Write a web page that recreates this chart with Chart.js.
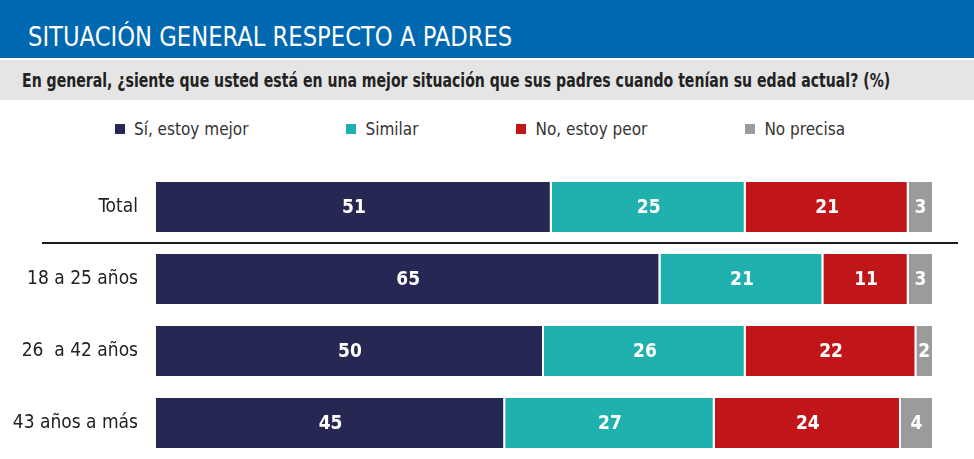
<!DOCTYPE html>
<html>
<head>
<meta charset="utf-8">
<script src="https://cdn.jsdelivr.net/npm/chart.js@4/dist/chart.umd.min.js"></script>
<style>
  body { margin: 0; width: 974px; height: 459px; background: #fff; overflow: hidden; position: relative;
         font-family: "DejaVu Sans Condensed", "DejaVu Sans", sans-serif; }
  .header { position: absolute; left: 0; top: 0; width: 974px; height: 58px; background: #0067b1; }
  .header h1 { margin: 0; position: absolute; left: 28px; top: 21px; color: #fff; font-weight: normal; font-size: 27px;
               white-space: nowrap; transform-origin: 0 0; }
  .sub { position: absolute; left: 0; top: 60px; width: 974px; height: 40px; background: #e5e5e5; }
  .sub p { margin: 0; position: absolute; left: 22px; top: 9px; font-size: 19px; font-weight: bold; color: #222;
           white-space: nowrap; transform-origin: 0 0; }
  #legend { position: absolute; top: 119px; left: 0; width: 960px; display: flex; justify-content: center; gap: 98px; font-size: 17px; color: #333; }
  #legend span.box { display: inline-block; width: 10px; height: 10px; margin-right: 9px; vertical-align: 1px; }
  #chart { position: absolute; left: 0; top: 100px; }
</style>
</head>
<body>
<div class="header"><h1 id="title">SITUACIÓN GENERAL RESPECTO A PADRES</h1></div>
<div class="sub"><p id="subtitle">En general, ¿siente que usted está en una mejor situación que sus padres cuando tenían su edad actual? (%)</p></div>
<div id="legend"></div>
<canvas id="chart" width="974" height="359"></canvas>
<script>
const FONT = '"DejaVu Sans Condensed", "DejaVu Sans", sans-serif';

const categories = ['Total', '18 a 25 años', '26  a 42 años', '43 años a más'];
const seriesNames = ['Sí, estoy mejor', 'Similar', 'No, estoy peor', 'No precisa'];
const seriesColors = ['#262752', '#20b0ad', '#c0161a', '#9b9b9b'];

const mejor = [51, 65, 50, 45];
const similar = [25, 21, 26, 27];
const peor = [21, 11, 22, 24];
const noPrecisa = [3, 3, 2, 4];

const seriesValues = [mejor, similar, peor, noPrecisa];

// squeeze the header texts to the narrow width of the original typeface
function fitWidth(id, target) {
  const el = document.getElementById(id);
  el.style.transform = `scaleX(${target / el.offsetWidth})`;
}
fitWidth('title', 484);
fitWidth('subtitle', 868);

// html legend, spaced like the original
const legendEl = document.getElementById('legend');
seriesNames.forEach((name, i) => {
  const item = document.createElement('div');
  item.innerHTML = `<span class="box" style="background:${seriesColors[i]}"></span>${name}`;
  legendEl.appendChild(item);
});

const valueLabels = {
  id: 'valueLabels',
  afterDatasetsDraw(chart) {
    const ctx = chart.ctx;
    ctx.save();
    ctx.fillStyle = '#fff';
    ctx.font = 'bold 19px ' + FONT;
    ctx.textAlign = 'center';
    ctx.textBaseline = 'middle';
    chart.data.datasets.forEach((ds, di) => {
      chart.getDatasetMeta(di).data.forEach((bar, i) => {
        const p = bar.getCenterPoint();
        ctx.fillText(String(ds.data[i]), p.x, p.y + 1);
      });
    });
    ctx.restore();
  }
};

// black rule between Total and the age groups
const separator = {
  id: 'separator',
  afterDraw(chart) {
    const y = chart.scales.y;
    const py = Math.round((y.getPixelForValue(0) + y.getPixelForValue(1)) / 2);
    const ctx = chart.ctx;
    ctx.save();
    ctx.strokeStyle = '#1a1a1a';
    ctx.lineWidth = 2;
    ctx.beginPath();
    ctx.moveTo(42, py);
    ctx.lineTo(958, py);
    ctx.stroke();
    ctx.restore();
  }
};

const lastSeries = seriesNames.length - 1;

new Chart(document.getElementById('chart'), {
  type: 'bar',
  data: {
    labels: categories,
    datasets: seriesNames.map((name, i) => ({
      label: name,
      data: seriesValues[i],
      backgroundColor: seriesColors[i],
      borderColor: '#fff',
      // white gap between segments, none after the last one
      borderWidth: { left: 0, right: i === lastSeries ? 0 : 2, top: 0, bottom: 0 },
      borderSkipped: false,
      categoryPercentage: 1,
      barPercentage: 0.694,
    })),
  },
  options: {
    indexAxis: 'y',
    responsive: false,
    animation: false,
    layout: { padding: { top: 71, right: 42, bottom: 0, left: 0 } },
    plugins: {
      legend: { display: false },
      tooltip: { enabled: false },
    },
    scales: {
      x: { stacked: true, min: 0, max: 100, display: false },
      y: {
        stacked: true,
        grid: { display: false },
        border: { display: false },
        ticks: { color: '#222', font: { family: FONT, size: 19 }, padding: 10 },
        afterFit(scale) {
          scale.width = 156;
          scale.paddingTop = 0;
          scale.paddingBottom = 0;
        },
      },
    },
  },
  plugins: [valueLabels, separator],
});
</script>
</body>
</html>
